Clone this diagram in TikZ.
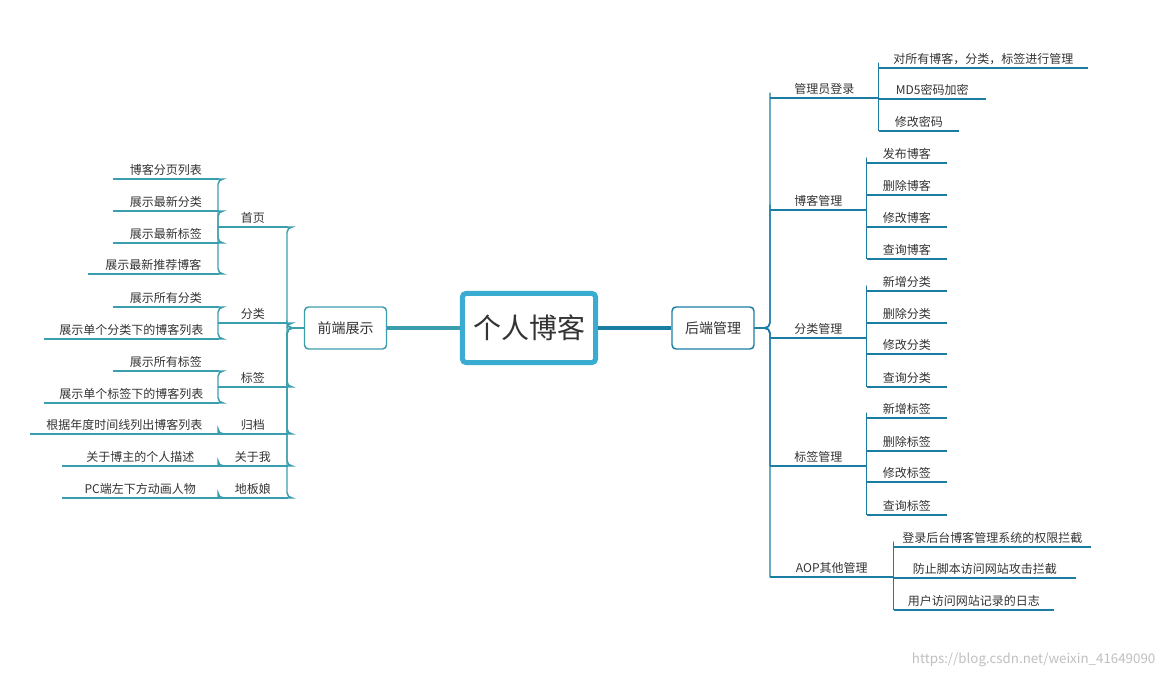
\documentclass[tikz,border=0pt]{standalone}
\usepackage{fontspec}
\setmainfont{Noto Sans CJK SC}
\definecolor{lteal}{HTML}{3A9EAD}
\definecolor{rblue}{HTML}{1C7DA3}
\definecolor{cblue}{HTML}{3AACD2}
\definecolor{ink}{HTML}{333333}

\begin{document}
\begin{tikzpicture}[x=0.75pt,y=-0.75pt,
        leaf/.style={inner xsep=0pt, inner ysep=2.5pt, anchor=south west,
            text=ink, font=\fontsize{9}{10}\selectfont},
        topic/.style={draw, line width=1.1pt, rounded corners=3pt, fill=white,
            text=ink, minimum width=61.5pt, minimum height=31.5pt,
            font=\fontsize{10.5}{12}\selectfont},
        lline/.style={lteal, line width=1.1pt, rounded corners=4pt},
        rline/.style={rblue, line width=1.1pt, rounded corners=4pt}]
        \useasboundingbox (0,0) rectangle (1166,680);

        % 中心主题
        \node [draw=cblue, line width=3.75pt, rounded corners=3pt, text=ink,
            minimum width=100pt, minimum height=52pt,
            font=\fontsize{21}{24}\selectfont] (root) at (529,328) {个人博客};
        \node [topic, draw=lteal] (fe) at (345.5,328) {前端展示};
        \node [topic, draw=rblue] (be) at (713,328) {后端管理};
        \draw [lteal, line width=3pt] (root.west) -- (fe.east);
        \draw [rblue, line width=3pt] (root.east) -- (be.east -| be.west);

        %%%%%% 前端展示 %%%%%%
        \coordinate (fej) at (287,328);
        \foreach \n/\x/\y/\w/\t in {sy/218/227/69/首页, fl/218/323/69/分类,
            bq/218/387/69/标签, gd/218/434/69/归档,
            gy/218/466/69/关于我, db/218/498/69/地板娘}
        {
            \node [leaf, minimum width={\w*0.75pt}] (\n) at (\x,\y) {\t};
            \draw [lline] (\n.south west) -- (\n.south east);
            \draw [lline] (fe.west) -- (fej) |- (\n.south east);
        }
        \foreach \n/\p/\x/\y/\w/\t in {sy1/sy/113/179/105/博客分页列表,
            sy2/sy/113/211/105/展示最新分类, sy3/sy/113/243/105/展示最新标签,
            sy4/sy/88/274/130/展示最新推荐博客,
            fl1/fl/113/307/105/展示所有分类, fl2/fl/44/339/174/展示单个分类下的博客列表,
            bq1/bq/113/371/105/展示所有标签, bq2/bq/44/403/174/展示单个标签下的博客列表,
            gd1/gd/30/434/188/根据年度时间线列出博客列表,
            gy1/gy/62/466/156/关于博主的个人描述,
            db1/db/62/498/156/PC端左下方动画人物}
        {
            \node [leaf, minimum width={\w*0.75pt}] (\n) at (\x,\y) {\t};
            \draw [lline] (\n.south west) -- (\n.south east);
            \draw [lline] (\p.south west) |- (\n.south east);
        }

        %%%%%% 后端管理 %%%%%%
        \coordinate (bej) at (770,328);
        \foreach \n/\x/\y/\w/\t in {gl/770/98/108/管理员登录, bk/770/210/96/博客管理,
            fm/770/338/96/分类管理, bm/770/466/96/标签管理, ao/770/577/123/AOP其他管理}
        {
            \node [leaf, minimum width={\w*0.75pt}] (\n) at (\x,\y) {\t};
            \draw [rline] (\n.south west) -- (\n.south east);
            \draw [rline] (be.east) -- (bej) |- (\n.south west);
        }
        \foreach \n/\p/\y/\w/\t in {gl1/gl/68/209/{对所有博客，分类，标签进行管理},
            gl2/gl/99/107/MD5密码加密, gl3/gl/131/80/修改密码,
            bk1/bk/163/80/发布博客, bk2/bk/195/80/删除博客,
            bk3/bk/227/80/修改博客, bk4/bk/259/80/查询博客,
            fm1/fm/291/80/新增分类, fm2/fm/323/80/删除分类,
            fm3/fm/354/80/修改分类, fm4/fm/387/80/查询分类,
            bm1/bm/418/80/新增标签, bm2/bm/451/80/删除标签,
            bm3/bm/482/80/修改标签, bm4/bm/515/80/查询标签,
            ao1/ao/547/197/登录后台博客管理系统的权限拦截,
            ao2/ao/578/182/防止脚本访问网站攻击拦截,
            ao3/ao/610/160/用户访问网站记录的日志}
        {
            \node [leaf, minimum width={\w*0.75pt}] (\n) at (\p.south east |- 0,\y) {\t};
            \draw [rline] (\n.south west) -- (\n.south east);
            \draw [rline] (\p.south east) |- (\n.south west);
        }

        % 水印
        \node [anchor=south east, text=black!25, font=\fontsize{10}{12}\selectfont]
            (wm) at (1160,672) {https://blog.csdn.net/weixin\_41649090};
    \end{tikzpicture}
\end{document}
